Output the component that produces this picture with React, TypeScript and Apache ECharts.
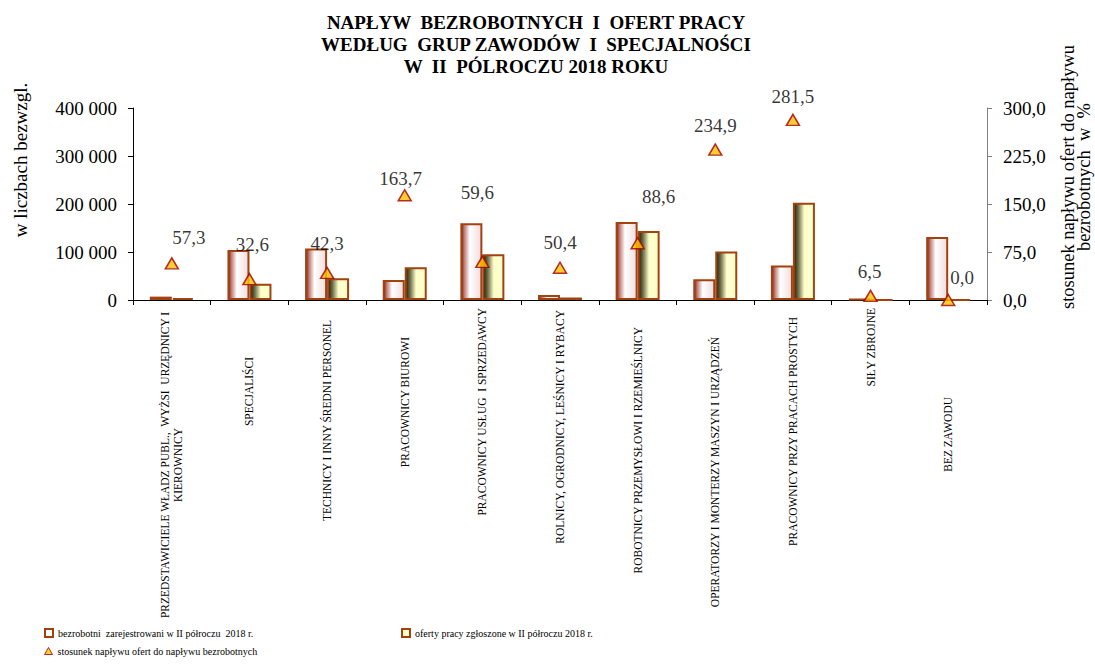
import React, { useEffect, useRef } from "react";
import * as echarts from "echarts";

const categories = [
  "PRZEDSTAWICIELE WŁADZ PUBL.,  WYŻSI  URZĘDNICY I\nKIEROWNICY",
  "SPECJALIŚCI",
  "TECHNICY I INNY ŚREDNI PERSONEL",
  "PRACOWNICY BIUROWI",
  "PRACOWNICY USŁUG  I SPRZEDAWCY",
  "ROLNICY, OGRODNICY, LEŚNICY I RYBACY",
  "ROBOTNICY PRZEMYSŁOWI I RZEMIEŚLNICY",
  "OPERATORZY I MONTERZY MASZYN I URZĄDZEŃ",
  "PRACOWNICY PRZY PRACACH PROSTYCH",
  "SIŁY ZBROJNE",
  "BEZ ZAWODU",
];

const unemployed = [7000, 104000, 107500, 41700, 159700, 10400, 162500, 43000, 72000, 1600, 131000];
const offers = [4000, 33900, 45500, 68300, 95200, 5200, 144000, 101000, 202700, 104, 0];
const ratio = [57.3, 32.6, 42.3, 163.7, 59.6, 50.4, 88.6, 234.9, 281.5, 6.5, 0.0];

const leftTicks = { min: 0, max: 400000, interval: 100000 };
const rightTicks = { min: 0, max: 300, interval: 75 };

const seriesNames = [
  "bezrobotni  zarejestrowani w II półroczu  2018 r.",
  "oferty pracy zgłoszone w II półroczu 2018 r.",
  "stosunek napływu ofert do napływu bezrobotnych",
];

// styling: per-point label shifts, per-category label placement
const labelShift = [
  [17, -26], [3, -35], [0, -29], [-4, -17], [-5, -69], [0, -25],
  [21, -47], [0, -24], [0, -23], [-1, -24], [14, -23],
];
const catLabelAlign = ["center", "right", "right", "right", "right", "right", "right", "right", "right", "right", "right"];
const catLabelPad = [314, 49, 12, 29, 0, 2, 19, 29, 9, 0, 89];

const SERIF = "Liberation Serif";
const BORDER = "#a3410f";

export default function App() {
  const ref = useRef<HTMLDivElement>(null);
  useEffect(() => {
    document.body.style.margin = "0";
    if (!ref.current) return;
    const chart = echarts.init(ref.current, null, { renderer: "svg" });
    const fmtThousands = (v: number) => String(v).replace(/\B(?=(\d{3})+(?!\d))/g, " ");
    const fmtPct = (v: number) => v.toFixed(1).replace(".", ",");

    const unempGrad = new echarts.graphic.LinearGradient(0, 0, 1, 0, [
      { offset: 0, color: "#7a1f16" },
      { offset: 0.15, color: "#c07c73" },
      { offset: 0.42, color: "#ffffff" },
      { offset: 1, color: "#f0dcdc" },
    ]);
    const offerGrad = new echarts.graphic.LinearGradient(0, 0, 1, 0, [
      { offset: 0, color: "#1e1e0a" },
      { offset: 0.22, color: "#6e6e48" },
      { offset: 0.52, color: "#ffffcc" },
      { offset: 1, color: "#ffffcc" },
    ]);

    const option: any = {
      animation: false,
      backgroundColor: "#ffffff",
      title: {
        text: "NAPŁYW  BEZROBOTNYCH  I  OFERT PRACY\nWEDŁUG  GRUP ZAWODÓW  I  SPECJALNOŚCI\nW  II  PÓLROCZU 2018 ROKU",
        left: 536,
        top: 11,
        padding: 0,
        textAlign: "center",
        textStyle: {
          fontFamily: SERIF,
          fontWeight: "bold",
          fontSize: 19,
          lineHeight: 22,
          color: "#000",
        },
      },
      grid: { left: 133, right: 108, top: 108, bottom: 366, containLabel: false, outerBoundsMode: "none" },
      legend: [
        {
          data: [{ name: seriesNames[0], icon: "rect", itemStyle: { color: "#ffffff", borderColor: BORDER, borderWidth: 2 } }],
          left: 44, top: 628, padding: 0, itemWidth: 8, itemHeight: 8, itemGap: 4,
          textStyle: { fontFamily: SERIF, fontSize: 10, color: "#000" },
        },
        {
          data: [{ name: seriesNames[1], icon: "rect", itemStyle: { color: "#ffffcc", borderColor: BORDER, borderWidth: 2 } }],
          left: 401, top: 628, padding: 0, itemWidth: 8, itemHeight: 8, itemGap: 4,
          textStyle: { fontFamily: SERIF, fontSize: 10, color: "#000" },
        },
        {
          data: [{ name: seriesNames[2], icon: "triangle", itemStyle: { color: "#ffc000", borderColor: "#a00000", borderWidth: 1 } }],
          left: 44, top: 646, padding: 0, itemWidth: 8, itemHeight: 7, itemGap: 4,
          textStyle: { fontFamily: SERIF, fontSize: 10, color: "#000" },
        },
      ],
      xAxis: {
        type: "category",
        data: categories.map((c, i) => ({
          value: c,
          textStyle: { align: catLabelAlign[i], padding: [0, catLabelPad[i], 0, 0] },
        })),
        axisLine: { lineStyle: { color: "#000", width: 1 } },
        axisTick: { show: true, length: 5, lineStyle: { color: "#000" } },
        axisLabel: {
          interval: 0,
          rotate: 90,
          margin: 8,
          fontFamily: SERIF,
          fontSize: 11.5,
          lineHeight: 13,
          color: "#000",
          verticalAlign: "middle",
        },
        splitLine: { show: false },
      },
      yAxis: [
        {
          type: "value",
          ...leftTicks,
          axisLine: { show: true, lineStyle: { color: "#000" } },
          axisTick: { show: true, length: 5, lineStyle: { color: "#000" } },
          axisLabel: { margin: 16, fontFamily: SERIF, fontSize: 19, color: "#000", formatter: fmtThousands },
          splitLine: { show: false },
        },
        {
          type: "value",
          ...rightTicks,
          position: "right",
          axisLine: { show: true, lineStyle: { color: "#808080" } },
          axisTick: { show: true, length: 5, lineStyle: { color: "#808080" } },
          axisLabel: { margin: 16, fontFamily: SERIF, fontSize: 19, color: "#000", formatter: fmtPct },
          splitLine: { show: false },
        },
      ],
      graphic: [
        {
          type: "text",
          x: 20,
          y: 160,
          rotation: Math.PI / 2,
          style: {
            text: "w liczbach bezwzgl.",
            fontFamily: SERIF,
            fontSize: 19,
            fill: "#000",
            align: "center",
            verticalAlign: "middle",
          },
        },
        {
          type: "text",
          x: 1076,
          y: 177,
          rotation: Math.PI / 2,
          style: {
            text: "stosunek napływu ofert do napływu\nbezrobotnych  w  %",
            fontFamily: SERIF,
            fontSize: 18.5,
            lineHeight: 16,
            fill: "#000",
            align: "center",
            verticalAlign: "middle",
          },
        },
      ],
      series: [
        {
          name: seriesNames[0],
          type: "bar",
          data: unemployed,
          barWidth: 22,
          barGap: "0%",
          itemStyle: { color: unempGrad, borderColor: BORDER, borderWidth: 2 },
        },
        {
          name: seriesNames[1],
          type: "bar",
          data: offers,
          barWidth: 22,
          barGap: "0%",
          itemStyle: { color: offerGrad, borderColor: BORDER, borderWidth: 2 },
        },
        {
          name: seriesNames[2],
          type: "scatter",
          yAxisIndex: 1,
          symbol: "triangle",
          symbolSize: [13, 11],
          itemStyle: { color: "#ffc000", borderColor: "#a00000", borderWidth: 1.5 },
          data: ratio.map((v, i) => ({
            value: v,
            label: { offset: labelShift[i] },
          })),
          label: {
            show: true,
            position: "inside",
            fontFamily: SERIF,
            fontSize: 19,
            color: "#000",
            formatter: (p: any) => fmtPct(p.value),
          },
          z: 5,
        },
      ],
    };
    chart.setOption(option);
    return () => chart.dispose();
  }, []);
  return <div ref={ref} style={{ width: 1095, height: 666 }} />;
}
